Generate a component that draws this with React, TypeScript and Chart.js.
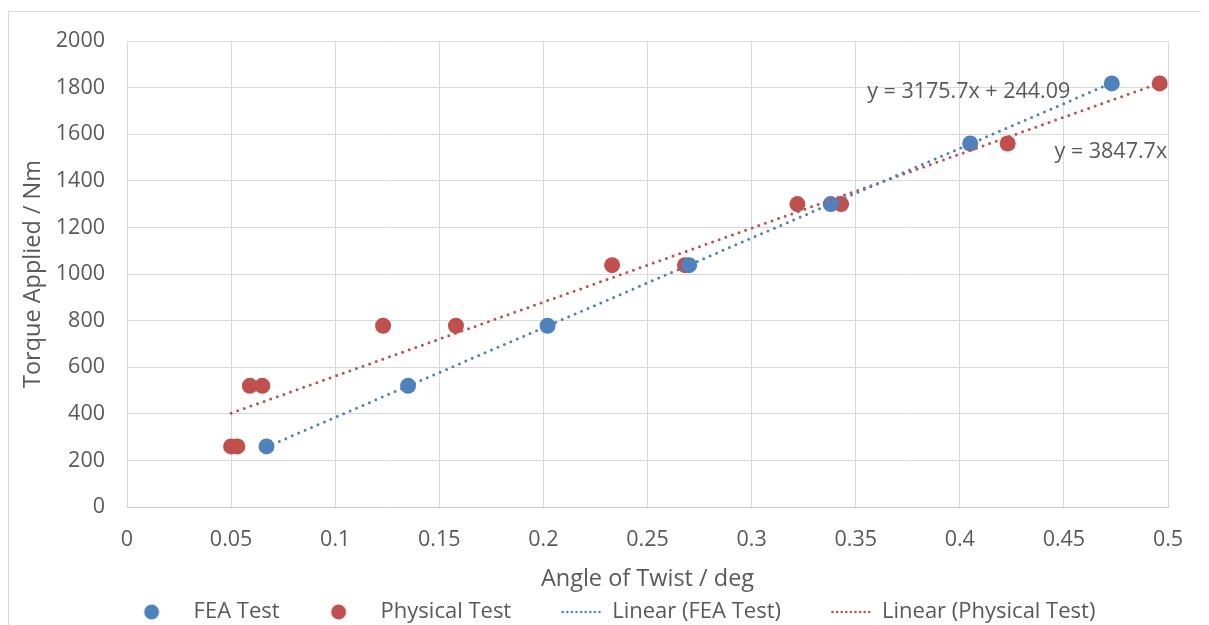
import React, { useEffect, useRef } from "react";
import { Chart, registerables } from "chart.js";

Chart.register(...registerables);

// ---- Data ----
const feaX = [0.067, 0.135, 0.202, 0.270, 0.338, 0.405, 0.473];
const feaY = [260, 520, 778, 1038, 1300, 1560, 1818];
const physX = [0.050, 0.053, 0.059, 0.065, 0.123, 0.158, 0.233, 0.268, 0.322, 0.343, 0.423, 0.496];
const physY = [260, 260, 520, 520, 778, 778, 1038, 1038, 1300, 1300, 1560, 1818];

// Trendline equations as shown on the chart
const feaSlope = 3847.7;
const feaIntercept = 0;
const physSlope = 3175.7;
const physIntercept = 244.09;

const eqPhysText = "y = 3175.7x + 244.09";
const eqFeaText = "y = 3847.7x";
const eqPhysPos = { x: 0.3555, y: 1780 };
const eqFeaPos = { x: 0.4455, y: 1525 };

const xTicks = [0, 0.05, 0.1, 0.15, 0.2, 0.25, 0.3, 0.35, 0.4, 0.45, 0.5];
const yTicks = [0, 200, 400, 600, 800, 1000, 1200, 1400, 1600, 1800, 2000];

const seriesNames = ["FEA Test", "Physical Test", "Linear (FEA Test)", "Linear (Physical Test)"];

const BLUE = "#4F81BD";
const RED = "#C0504D";
const TEXT = "#595959";
const GRID = "#d9d9d9";
const FONT = "'Open Sans', 'DejaVu Sans', sans-serif";

function trend(xs: number[], m: number, b: number) {
  const lo = Math.min(...xs);
  const hi = Math.max(...xs);
  return [
    { x: lo, y: m * lo + b },
    { x: hi, y: m * hi + b },
  ];
}

function circleIcon(color: string) {
  const c = document.createElement("canvas");
  c.width = 40;
  c.height = 18;
  const g = c.getContext("2d")!;
  g.fillStyle = color;
  g.beginPath();
  g.arc(9, 9, 7.5, 0, Math.PI * 2);
  g.fill();
  return c;
}

function dottedIcon(color: string) {
  const c = document.createElement("canvas");
  c.width = 40;
  c.height = 6;
  const g = c.getContext("2d")!;
  g.fillStyle = color;
  for (let x = 1.5; x <= 39; x += 4.6) {
    g.beginPath();
    g.arc(x, 3, 1.3, 0, Math.PI * 2);
    g.fill();
  }
  return c;
}

const equationPlugin = {
  id: "equations",
  beforeDraw(chart: any) {
    // shift the legend's box so the row sits under the chart as in the reference
    const lg = chart.legend;
    if (lg && !lg._shifted) {
      lg.left += 61;
      lg._shifted = true;
    }
  },
  afterDatasetsDraw(chart: any) {
    const { ctx, scales } = chart;
    const xs = scales.x;
    const ys = scales.y;
    ctx.save();
    ctx.font = `21.5px ${FONT}`;
    ctx.fillStyle = TEXT;
    ctx.textAlign = "left";
    ctx.textBaseline = "middle";
    ctx.fillText(eqPhysText, xs.getPixelForValue(eqPhysPos.x), ys.getPixelForValue(eqPhysPos.y));
    ctx.fillText(eqFeaText, xs.getPixelForValue(eqFeaPos.x), ys.getPixelForValue(eqFeaPos.y));
    ctx.restore();
  },
};

export default function App() {
  const ref = useRef<HTMLCanvasElement | null>(null);

  useEffect(() => {
    document.body.style.overflow = "hidden";
    const canvas = ref.current!;
    const icons = [circleIcon(BLUE), circleIcon(RED), dottedIcon(BLUE), dottedIcon(RED)];
    const chart = new Chart(canvas, {
      type: "scatter",
      data: {
        datasets: [
          {
            label: seriesNames[0],
            data: feaX.map((x, i) => ({ x, y: feaY[i] })),
            backgroundColor: BLUE,
            borderColor: BLUE,
            pointRadius: 8,
            pointHoverRadius: 8,
            borderWidth: 0,
            order: 1,
          },
          {
            label: seriesNames[1],
            data: physX.map((x, i) => ({ x, y: physY[i] })),
            backgroundColor: RED,
            borderColor: RED,
            pointRadius: 8,
            pointHoverRadius: 8,
            borderWidth: 0,
            order: 1,
          },
          {
            label: seriesNames[2],
            type: "line",
            data: trend(feaX, feaSlope, feaIntercept),
            borderColor: BLUE,
            backgroundColor: BLUE,
            borderWidth: 3,
            borderDash: [0, 7],
            borderCapStyle: "round",
            pointRadius: 0,
            showLine: true,
            fill: false,
            order: 0,
          } as any,
          {
            label: seriesNames[3],
            type: "line",
            data: trend(physX, physSlope, physIntercept),
            borderColor: RED,
            backgroundColor: RED,
            borderWidth: 3,
            borderDash: [0, 7],
            borderCapStyle: "round",
            pointRadius: 0,
            showLine: true,
            fill: false,
            order: 0,
          } as any,
        ],
      },
      options: {
        animation: false,
        responsive: false,
        layout: { padding: { left: 0, top: 29, right: 41, bottom: 1 } },
        plugins: {
          tooltip: { enabled: false },
          legend: {
            position: "bottom",
            labels: {
              usePointStyle: true,
              pointStyleWidth: 40,
              boxHeight: 14,
              padding: 50,
              color: TEXT,
              font: { family: FONT, size: 22 },
              generateLabels: (ch: any) =>
                ch.data.datasets.map((ds: any, i: number) => ({
                  text: ds.label,
                  datasetIndex: i,
                  fillStyle: ds.backgroundColor,
                  strokeStyle: ds.borderColor,
                  lineWidth: 0,
                  pointStyle: icons[i],
                  fontColor: TEXT,
                  hidden: false,
                })),
            },
          },
        },
        scales: {
          x: {
            type: "linear",
            min: 0,
            max: 0.5,
            afterBuildTicks: (s: any) => {
              s.ticks = xTicks.map((v) => ({ value: v }));
            },
            afterFit: (s: any) => {
              s.height = 44;
            },
            ticks: {
              color: TEXT,
              font: { family: FONT, size: 21.5 },
              padding: 20,
              maxRotation: 0,
              autoSkip: false,
              callback: (v: any) => String(Number(Number(v).toFixed(2))),
            },
            grid: { color: GRID, drawTicks: false, lineWidth: 1 },
            border: { color: "#c8c8c8", width: 1 },
            title: {
              display: true,
              text: "Angle of Twist / deg",
              color: TEXT,
              font: { family: FONT, size: 23.5 },
              padding: { top: 0, bottom: -42 },
            },
          },
          y: {
            type: "linear",
            min: 0,
            max: 2000,
            afterBuildTicks: (s: any) => {
              s.ticks = yTicks.map((v) => ({ value: v }));
            },
            afterFit: (s: any) => {
              s.width = 118;
            },
            ticks: {
              color: TEXT,
              font: { family: FONT, size: 21.5, lineHeight: 0.5 },
              padding: 22,
              callback: (v: any) => String(v),
            },
            grid: { color: GRID, drawTicks: false, lineWidth: 1 },
            border: { display: false },
            title: {
              display: true,
              text: "Torque Applied / Nm",
              color: TEXT,
              font: { family: FONT, size: 23.5 },
              padding: { top: 10, bottom: 0 },
            },
          },
        },
      },
      plugins: [equationPlugin],
    });
    return () => chart.destroy();
  }, []);

  return (
    <div style={{ paddingTop: 3 }}>
      <div
        style={{
          borderTop: "1px solid #d9d9d9",
          borderLeft: "1px solid #d9d9d9",
          width: 1201,
          height: 640,
          boxSizing: "border-box",
          background: "#fff",
        }}
      >
        <canvas ref={ref} width={1200} height={622} style={{ display: "block" }} />
      </div>
    </div>
  );
}
